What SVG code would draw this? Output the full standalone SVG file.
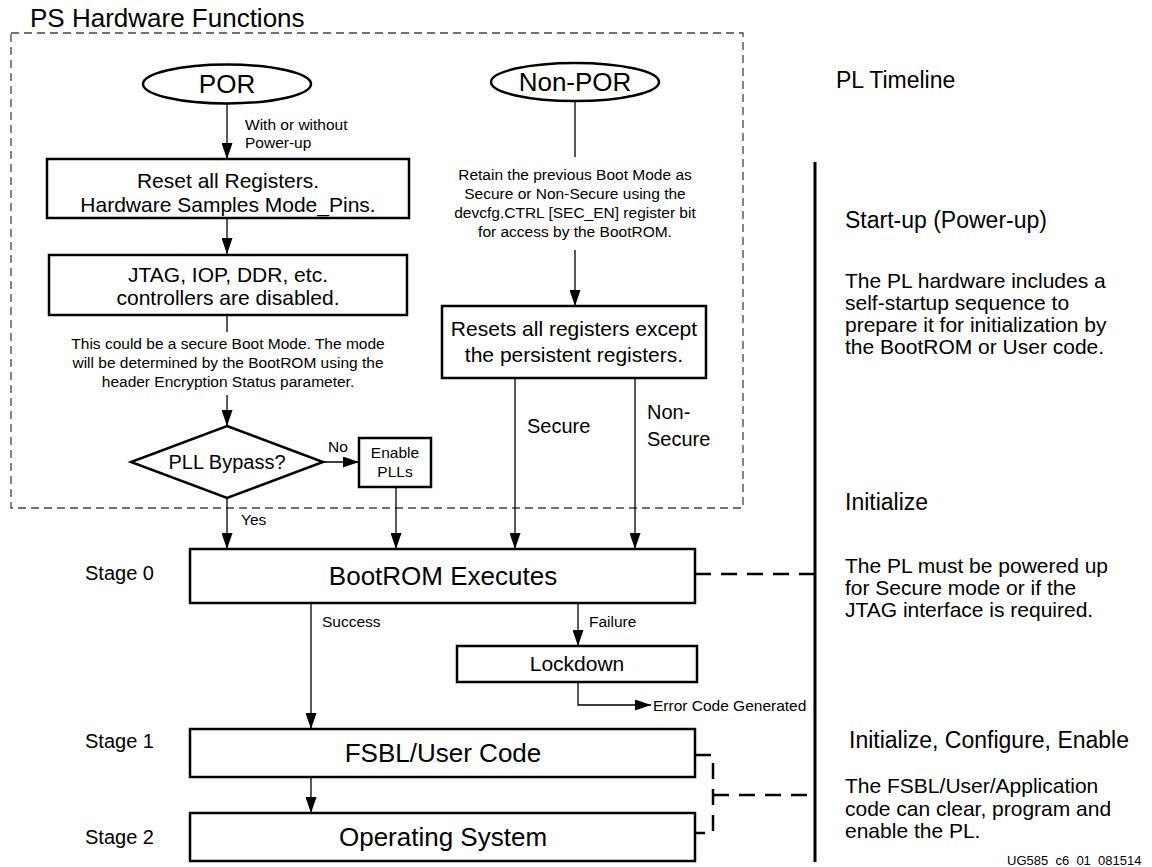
<svg xmlns="http://www.w3.org/2000/svg" width="1152" height="867" viewBox="0 0 1152 867">
<style>
text{font-family:"Liberation Sans",Arial,sans-serif;fill:#000}
.box{fill:#fff;stroke:#000;stroke-width:2.5}
.ln{fill:none;stroke:#000;stroke-width:1.3}
.arr{fill:none;stroke:#000;stroke-width:1.3;marker-end:url(#ah)}
.dash{fill:none;stroke:#000;stroke-width:2.5;stroke-dasharray:16 10}
.c{text-anchor:middle}
.t26{font-size:26px}.t21{font-size:21px}.t20{font-size:20px}.t23{font-size:23px}.t16{font-size:15.5px}.t13{font-size:13px}
</style>
<defs>
<marker id="ah" markerUnits="userSpaceOnUse" markerWidth="16" markerHeight="11" refX="16" refY="5.5" orient="auto">
<path d="M0,0 L16,5.5 L0,11 z" fill="#000"/>
</marker>
</defs>

<g id="ps-frame">
<text x="30" y="27" class="t26">PS Hardware Functions</text>
<rect x="11" y="33" width="732" height="475" fill="none" stroke="#444" stroke-width="1.3" stroke-dasharray="8 5"/>
</g>

<g id="connectors">
<path class="arr" d="M227,103 V159"/>
<text x="245" y="130" class="t16">With or without</text>
<text x="245" y="148" class="t16">Power-up</text>
<path class="arr" d="M227,218 V254"/>
<path class="ln" d="M227,315 V332"/>
<path class="arr" d="M227,395 V426"/>
<path class="arr" d="M323,462 H359"/>
<text x="328" y="452" class="t16">No</text>
<path class="arr" d="M227,498 V549"/>
<text x="241" y="525" class="t16">Yes</text>
<path class="arr" d="M396,487 V549"/>
<path class="ln" d="M575,102 V157"/>
<path class="arr" d="M575,250 V306"/>
<path class="arr" d="M515,378 V549"/>
<text x="527" y="433" class="t20">Secure</text>
<path class="arr" d="M635,378 V549"/>
<text x="647" y="419" class="t20">Non-</text>
<text x="647" y="446" class="t20">Secure</text>
<path class="arr" d="M311,603 V729"/>
<text x="322" y="627" class="t16">Success</text>
<path class="arr" d="M578,603 V646"/>
<text x="589" y="627" class="t16">Failure</text>
<path class="arr" d="M578,682 V705 H651"/>
<text x="653" y="711" class="t16">Error Code Generated</text>
<path class="arr" d="M311,777 V813"/>
<path class="dash" d="M695,574 H815"/>
<path class="dash" d="M695,755 H713 V833 H695"/>
<path class="dash" d="M713,795 H815"/>
</g>

<g id="por">
<ellipse cx="227" cy="84" rx="84" ry="19.5" class="box"/>
<text x="227" y="93" class="t26 c">POR</text>
</g>
<g id="non-por">
<ellipse cx="575" cy="82" rx="84" ry="19" class="box"/>
<text x="575" y="91" class="t26 c">Non-POR</text>
</g>
<g id="reset-all">
<rect x="47" y="159" width="362" height="59" class="box"/>
<text x="228" y="188" class="t21 c">Reset all Registers.</text>
<text x="228" y="212" class="t21 c">Hardware Samples Mode_Pins.</text>
</g>
<g id="controllers-disabled">
<rect x="49" y="255" width="358" height="60" class="box"/>
<text x="228" y="282" class="t21 c">JTAG, IOP, DDR, etc.</text>
<text x="228" y="305" class="t21 c">controllers are disabled.</text>
</g>
<g id="secure-note">
<text x="228" y="349" class="t16 c">This could be a secure Boot Mode. The mode</text>
<text x="228" y="368" class="t16 c">will be determined by the BootROM using the</text>
<text x="228" y="387" class="t16 c">header Encryption Status parameter.</text>
</g>
<g id="pll-bypass">
<polygon points="227,426 323,462 227,498 131,462" class="box"/>
<text x="227" y="469" class="t20 c">PLL Bypass?</text>
</g>
<g id="enable-plls">
<rect x="359" y="438" width="72" height="49" class="box"/>
<text x="395" y="458" class="t16 c">Enable</text>
<text x="395" y="477" class="t16 c">PLLs</text>
</g>
<g id="retain-note">
<text x="575" y="180" class="t16 c">Retain the previous Boot Mode as</text>
<text x="575" y="199" class="t16 c">Secure or Non-Secure using the</text>
<text x="575" y="218" class="t16 c">devcfg.CTRL [SEC_EN] register bit</text>
<text x="575" y="237" class="t16 c">for access by the BootROM.</text>
</g>
<g id="resets-except">
<rect x="442" y="306" width="264" height="72" class="box"/>
<text x="574" y="336" class="t21 c">Resets all registers except</text>
<text x="574" y="362" class="t21 c">the persistent registers.</text>
</g>
<g id="bootrom">
<rect x="190" y="549" width="505" height="54" class="box"/>
<text x="443" y="585" class="t26 c">BootROM Executes</text>
<text x="85" y="580" class="t20">Stage 0</text>
</g>
<g id="lockdown">
<rect x="457" y="646" width="240" height="36" class="box"/>
<text x="577" y="671" class="t21 c">Lockdown</text>
</g>
<g id="fsbl">
<rect x="190" y="729" width="505" height="48" class="box"/>
<text x="443" y="762" class="t26 c">FSBL/User Code</text>
<text x="85" y="748" class="t20">Stage 1</text>
</g>
<g id="os">
<rect x="190" y="813" width="505" height="48" class="box"/>
<text x="443" y="846" class="t26 c">Operating System</text>
<text x="85" y="844" class="t20">Stage 2</text>
</g>

<g id="pl-timeline">
<text x="836" y="88" class="t23">PL Timeline</text>
<line x1="815" y1="162" x2="815" y2="862" stroke="#000" stroke-width="3"/>
<text x="845" y="228" class="t23">Start-up (Power-up)</text>
<text x="845" y="288" class="t21">The PL hardware includes a</text>
<text x="845" y="310" class="t21">self-startup sequence to</text>
<text x="845" y="332" class="t21">prepare it for initialization by</text>
<text x="845" y="354" class="t21">the BootROM or User code.</text>
<text x="845" y="510" class="t23">Initialize</text>
<text x="845" y="573" class="t21">The PL must be powered up</text>
<text x="845" y="595" class="t21">for Secure mode or if the</text>
<text x="845" y="617" class="t21">JTAG interface is required.</text>
<text x="849" y="748" class="t23">Initialize, Configure, Enable</text>
<text x="845" y="793" class="t21">The FSBL/User/Application</text>
<text x="845" y="816" class="t21">code can clear, program and</text>
<text x="845" y="838" class="t21">enable the PL.</text>
<text x="1007" y="865" class="t13">UG585_c6_01_081514</text>
</g>
</svg>
